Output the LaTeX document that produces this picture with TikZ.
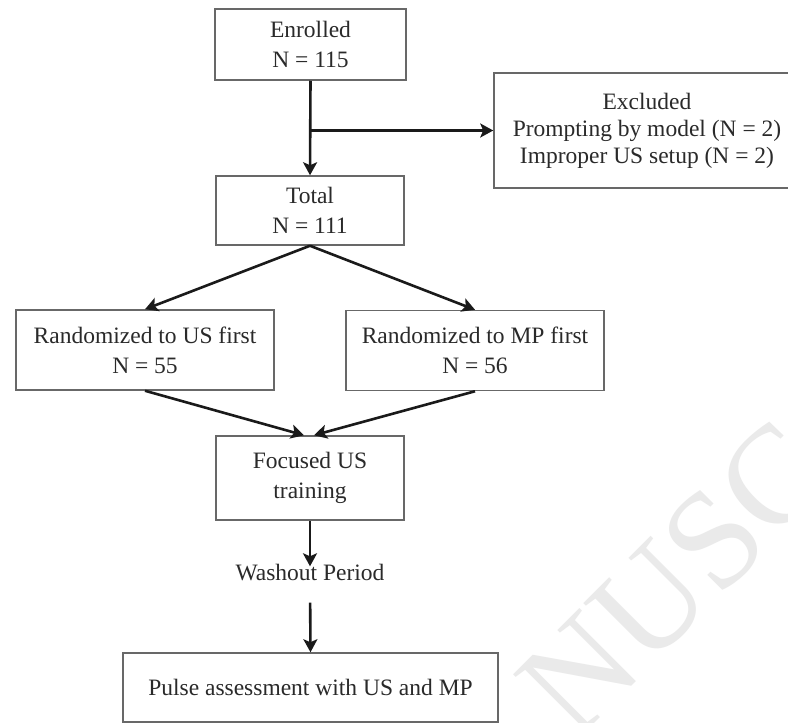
\documentclass[tikz,border=0pt]{standalone}
\usepackage{fontspec}
\setmainfont{Liberation Serif}
\usetikzlibrary{arrows.meta,calc}
\definecolor{boxline}{HTML}{686868}
\definecolor{txt}{HTML}{2A2A2A}
\definecolor{arr}{HTML}{1A1A1A}
\definecolor{wm}{HTML}{EAEAEA}
\begin{document}
\begin{tikzpicture}[x=1pt,y=-1pt,
  box/.style={draw=boxline,line width=1.5pt,fill=white,text=txt,align=center,inner sep=0pt,
    font=\fontsize{23.5}{30}\selectfont},
  flow/.style={draw=arr,line width=2.6pt,-{Stealth[length=13pt,width=14pt,inset=3pt]}},
  plain/.style={draw=arr,line width=2.6pt}]
\useasboundingbox (0,0) rectangle (788,723);
\fill[white] (0,0) rectangle (788,723);
% watermark
\node[text=wm,font=\fontsize{140}{140}\selectfont,rotate=45,inner sep=0pt] (wmk) at (675,578) {NUSC};
% boxes
\node[box,minimum width=191pt,minimum height=71pt] (enr) at (310.5,44.5) {Enrolled\\N = 115};
\node[box,minimum width=306pt,minimum height=115pt,font=\fontsize{23.5}{27}\selectfont] (exc) at (647,130.5)
  {Excluded\\Prompting by model (N = 2)\\Improper US setup (N = 2)};
\node[box,minimum width=188pt,minimum height=69pt] (tot) at (310,210.5) {Total\\N = 111};
\node[box,minimum width=258pt,minimum height=80pt] (lft) at (145,350) {Randomized to US first\\N = 55};
\node[box,minimum width=258pt,minimum height=80pt] (rgt) at (475,350.5) {Randomized to MP first\\N = 56};
\node[box,minimum width=188pt,minimum height=84pt] (foc) at (310,478) {Focused US\\training};
\node[text=txt,font=\fontsize{23.5}{30}\selectfont,inner sep=0pt,text height=0.7em,text depth=0pt] (wash) at (310,577) {Washout Period};
\node[box,minimum width=375pt,minimum height=69pt] (pul) at (310.5,687.5) {Pulse assessment with US and MP};
% connectors
\coordinate (br) at (enr.south |- exc.west);
\draw[flow] (enr.south) -- (tot.north);
\draw[flow] (br) -- (exc.west);
\draw[flow] (tot.south) -- (lft.north);
\draw[flow] (tot.south) -- (rgt.north);
\draw[flow] (lft.south) -- ($(foc.north)+(-6,0)$);
\draw[flow] (rgt.south) -- ($(foc.north)+(4,0)$);
\draw[flow,shorten >=7pt] (foc.south) -- (wash.north);
\draw[flow,shorten <=22pt] (wash.south) -- (pul.north);
\end{tikzpicture}
\end{document}
